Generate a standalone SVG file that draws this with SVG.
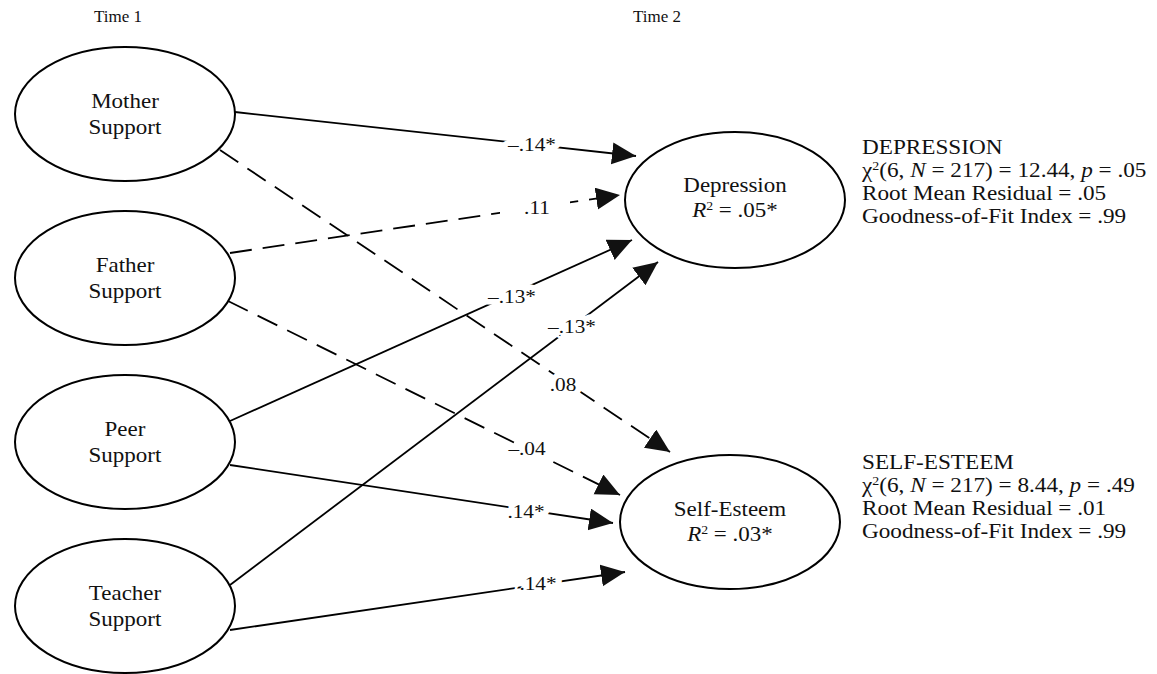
<svg xmlns="http://www.w3.org/2000/svg" width="1157" height="674" viewBox="0 0 1157 674">
<style>
  .node { fill: #fff; stroke: #000; stroke-width: 2; }
  .nt { font-family: "Liberation Serif", "Times New Roman", serif; font-size: 20px; fill: #111; text-anchor: middle; }
  .hd { font-family: "Liberation Serif", "Times New Roman", serif; font-size: 17px; fill: #111; text-anchor: middle; }
  .solid { stroke: #000; stroke-width: 1.8; fill: none; marker-end: url(#ah); }
  .dash { stroke: #000; stroke-width: 1.8; fill: none; stroke-dasharray: 22 11; marker-end: url(#ah); }
  .lab { font-family: "Liberation Serif", "Times New Roman", serif; font-size: 19px; fill: #111; text-anchor: middle; stroke: #fff; stroke-width: 11px; paint-order: stroke; stroke-linejoin: round; }
  .rt { font-family: "Liberation Serif", "Times New Roman", serif; font-size: 20px; fill: #111; }
</style>
<defs>
  <marker id="ah" markerUnits="userSpaceOnUse" markerWidth="26" markerHeight="24" refX="24" refY="11" orient="auto">
    <path d="M0,0 L24,11 L0,22 z" fill="#111"/>
  </marker>
</defs>

<text class="hd" x="118" y="22">Time 1</text>
<text class="hd" x="657" y="22">Time 2</text>

<g id="connectors">
  <line class="solid" x1="235" y1="112" x2="636" y2="156"/>
  <line class="dash" x1="230" y1="253" x2="620" y2="195"/>
  <line class="dash" x1="220" y1="150" x2="670" y2="452"/>
  <line class="dash" x1="228" y1="301" x2="620" y2="495"/>
  <line class="solid" x1="230" y1="421" x2="632" y2="240"/>
  <line class="solid" x1="230" y1="585" x2="658" y2="262"/>
  <line class="solid" x1="230" y1="465" x2="613" y2="523"/>
  <line class="solid" x1="230" y1="630" x2="625" y2="572"/>
  <rect x="500" y="196" width="70" height="22" fill="#fff"/>
  <text class="lab" transform="translate(532 151) scale(1.12 1)">–.14*</text>
  <text class="lab" transform="translate(537 214) scale(1.12 1)">.11</text>
  <text class="lab" transform="translate(512 303) scale(1.12 1)">–.13*</text>
  <text class="lab" transform="translate(572 333) scale(1.12 1)">–.13*</text>
  <text class="lab" transform="translate(563 391) scale(1.12 1)">.08</text>
  <text class="lab" transform="translate(527 455) scale(1.12 1)">–.04</text>
  <text class="lab" transform="translate(526 518) scale(1.12 1)">.14*</text>
  <text class="lab" transform="translate(538 590) scale(1.12 1)">.14*</text>
</g>

<g id="mother">
  <ellipse class="node" cx="125" cy="114" rx="110" ry="67"/>
  <text class="nt" transform="translate(125 108) scale(1.15 1)">Mother</text>
  <text class="nt" transform="translate(125 134) scale(1.15 1)">Support</text>
</g>
<g id="father">
  <ellipse class="node" cx="125" cy="278" rx="110" ry="67"/>
  <text class="nt" transform="translate(125 272) scale(1.15 1)">Father</text>
  <text class="nt" transform="translate(125 298) scale(1.15 1)">Support</text>
</g>
<g id="peer">
  <ellipse class="node" cx="125" cy="442" rx="110" ry="67"/>
  <text class="nt" transform="translate(125 436) scale(1.15 1)">Peer</text>
  <text class="nt" transform="translate(125 462) scale(1.15 1)">Support</text>
</g>
<g id="teacher">
  <ellipse class="node" cx="125" cy="606" rx="110" ry="67"/>
  <text class="nt" transform="translate(125 600) scale(1.15 1)">Teacher</text>
  <text class="nt" transform="translate(125 626) scale(1.15 1)">Support</text>
</g>
<g id="depression">
  <ellipse class="node" cx="735" cy="200" rx="110" ry="68"/>
  <text class="nt" transform="translate(735 192) scale(1.15 1)">Depression</text>
  <text class="nt" transform="translate(735 217) scale(1.15 1)"><tspan font-style="italic">R</tspan><tspan dy="-7" font-size="12">2</tspan><tspan dy="7"> = .05*</tspan></text>
</g>
<g id="selfesteem">
  <ellipse class="node" cx="730" cy="522" rx="110" ry="67"/>
  <text class="nt" transform="translate(730 516) scale(1.15 1)">Self-Esteem</text>
  <text class="nt" transform="translate(730 541) scale(1.15 1)"><tspan font-style="italic">R</tspan><tspan dy="-7" font-size="12">2</tspan><tspan dy="7"> = .03*</tspan></text>
</g>

<g id="depression-fit" transform="translate(862 0) scale(1.16 1)">
  <text class="rt" x="0" y="154">DEPRESSION</text>
  <text class="rt" x="0" y="177">χ<tspan dy="-7" font-size="12">2</tspan><tspan dy="7">(6, </tspan><tspan font-style="italic">N</tspan> = 217) = 12.44, <tspan font-style="italic">p</tspan> = .05</text>
  <text class="rt" x="0" y="200">Root Mean Residual = .05</text>
  <text class="rt" x="0" y="223">Goodness-of-Fit Index = .99</text>
</g>
<g id="selfesteem-fit" transform="translate(862 0) scale(1.16 1)">
  <text class="rt" x="0" y="469">SELF-ESTEEM</text>
  <text class="rt" x="0" y="492">χ<tspan dy="-7" font-size="12">2</tspan><tspan dy="7">(6, </tspan><tspan font-style="italic">N</tspan> = 217) = 8.44, <tspan font-style="italic">p</tspan> = .49</text>
  <text class="rt" x="0" y="515">Root Mean Residual = .01</text>
  <text class="rt" x="0" y="538">Goodness-of-Fit Index = .99</text>
</g>
</svg>
